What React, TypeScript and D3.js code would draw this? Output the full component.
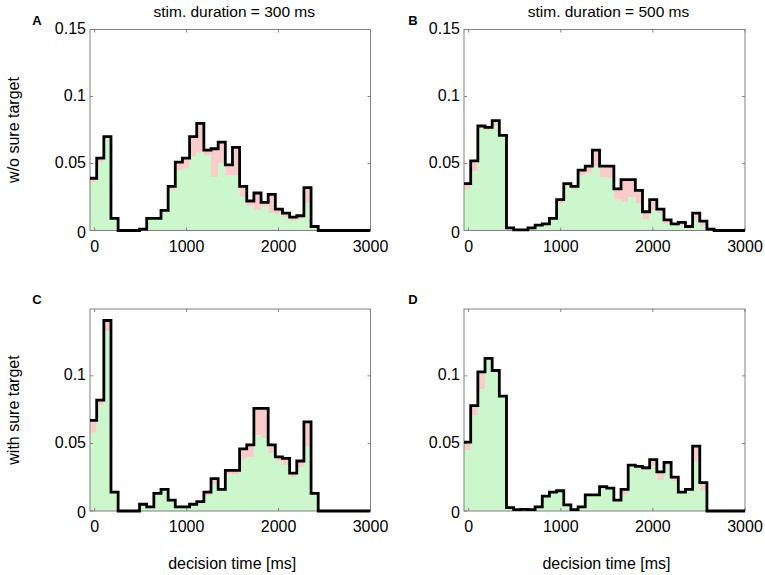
import React from "react";
import * as d3 from "d3";

// Histogram bins (decision time, ms)
const binStart = -55;
const binWidth = 77.7;
const xDomain: [number, number] = [-50, 3000];
const xTicks = [0, 1000, 2000, 3000];

const titles = ["stim. duration = 300 ms", "stim. duration = 500 ms"];
const rowLabels = ["w/o sure target", "with sure target"];
const panelLetters = ["A", "B", "C", "D"];
const xLabel = "decision time [ms]";

// Panel A: w/o sure target, 300 ms
const totalA = [0.039, 0.054, 0.070, 0.009, 0, 0, 0, 0.001, 0.009, 0.009, 0.015, 0.033, 0.051, 0.054, 0.070, 0.080,
  0.060, 0.061, 0.066, 0.049, 0.062, 0.033, 0.022, 0.028, 0.021, 0.027, 0.016, 0.013, 0.010, 0.011, 0.032, 0.003];
const greenA = [0.036, 0.051, 0.069, 0.009, 0, 0, 0, 0.001, 0.009, 0.009, 0.014, 0.030, 0.045, 0.046, 0.055, 0.058,
  0.056, 0.040, 0.050, 0.041, 0.041, 0.025, 0.018, 0.015, 0.018, 0.013, 0.012, 0.010, 0.007, 0.009, 0.020, 0.002];

// Panel B: w/o sure target, 500 ms
const totalB = [0.035, 0.052, 0.078, 0.077, 0.082, 0.071, 0.002, 0.0005, 0.0005, 0.002, 0.004, 0.005, 0.009, 0.023,
  0.035, 0.033, 0.045, 0.048, 0.060, 0.048, 0.048, 0.031, 0.038, 0.038, 0.030, 0.014, 0.023, 0.016, 0.008, 0.005,
  0.006, 0.003, 0.013, 0.007, 0.001];
const greenB = [0.031, 0.044, 0.076, 0.075, 0.078, 0.071, 0.002, 0.0005, 0.0005, 0.002, 0.004, 0.005, 0.009, 0.020,
  0.033, 0.031, 0.041, 0.043, 0.048, 0.040, 0.039, 0.023, 0.021, 0.025, 0.020, 0.008, 0.015, 0.013, 0.005, 0.004,
  0.004, 0.003, 0.008, 0.003, 0.001];

// Panel C: with sure target, 300 ms
const totalC = [0.067, 0.082, 0.141, 0.014, 0, 0, 0, 0.005, 0.003, 0.013, 0.016, 0.008, 0.003, 0.003, 0.005, 0.007,
  0.014, 0.024, 0.016, 0.030, 0.030, 0.046, 0.049, 0.076, 0.076, 0.049, 0.040, 0.039, 0.028, 0.037, 0.066, 0.013];
const greenC = [0.058, 0.078, 0.133, 0.014, 0, 0, 0, 0.005, 0.003, 0.013, 0.016, 0.008, 0.003, 0.003, 0.005, 0.007,
  0.011, 0.020, 0.016, 0.027, 0.027, 0.038, 0.040, 0.056, 0.054, 0.043, 0.037, 0.034, 0.025, 0.032, 0.048, 0.012];

// Panel D: with sure target, 500 ms
const totalD = [0.051, 0.078, 0.103, 0.113, 0.104, 0.085, 0.0025, 0.001, 0.0012, 0.001, 0.003, 0.011, 0.014, 0.015,
  0.0045, 0.001, 0.003, 0.012, 0.012, 0.018, 0.017, 0.008, 0.016, 0.034, 0.033, 0.032, 0.038, 0.029, 0.036, 0.025,
  0.014, 0.016, 0.048, 0.021];
const greenD = [0.045, 0.071, 0.090, 0.112, 0.104, 0.085, 0.0025, 0.001, 0.0012, 0.001, 0.003, 0.011, 0.014, 0.015,
  0.0045, 0.001, 0.003, 0.011, 0.012, 0.016, 0.017, 0.008, 0.012, 0.033, 0.032, 0.030, 0.033, 0.023, 0.034, 0.022,
  0.013, 0.016, 0.037, 0.015];

const yTicksTop = [0, 0.05, 0.1, 0.15];
const yTicksBottom = [0, 0.05, 0.1];
const yMaxTop = 0.15;
const yMaxBottom = 0.1495;

const GREEN = "#ccf7cc";
const PINK = "#f9cccc";
const FRAME = "#808080";
const FONT = "'Liberation Sans', Arial, sans-serif";
const TICK_FS = 16;
const LABEL_FS = 16;

type PanelProps = {
  x0: number; x1: number; y0: number; y1: number;
  total: number[]; green: number[]; yMax: number; yTicks: number[]; id: string;
};

function fmt(v: number) {
  if (v === 0) return "0";
  return String(+v.toFixed(2));
}

function Panel({ x0, x1, y0, y1, total, green, yMax, yTicks, id }: PanelProps) {
  const x = d3.scaleLinear().domain(xDomain).range([x0, x1]);
  const y = d3.scaleLinear().domain([0, yMax]).range([y1, y0]);
  const edge = (k: number) => Math.max(binStart + k * binWidth, xDomain[0]);
  const pts = total.map((v, k) => ({ x: edge(k), t: v, g: green[k] }));
  pts.push({ x: binStart + total.length * binWidth, t: 0, g: 0 });
  pts.push({ x: xDomain[1], t: 0, g: 0 });

  const greenArea = d3.area<any>().curve(d3.curveStepAfter)
    .x((d) => x(d.x)).y0(y(0)).y1((d) => y(d.g))(pts) as string;
  const pinkArea = d3.area<any>().curve(d3.curveStepAfter)
    .x((d) => x(d.x)).y0((d) => y(d.g)).y1((d) => y(d.t))(pts) as string;
  const line = d3.line<any>().curve(d3.curveStepAfter)
    .x((d) => x(d.x)).y((d) => y(d.t))(pts) as string;
  const tl = 3;
  return (
    <g>
      <defs>
        <clipPath id={id}>
          <rect x={x0} y={y0 - 2} width={x1 - x0} height={y1 - y0 + 4} />
        </clipPath>
      </defs>
      <g clipPath={`url(#${id})`}>
        <path d={greenArea} fill={GREEN} />
        <path d={pinkArea} fill={PINK} />
      </g>
      <rect x={x0} y={y0} width={x1 - x0} height={y1 - y0} fill="none" stroke={FRAME} strokeWidth={1} />
      {xTicks.map((t) => (
        <g key={"xt" + t}>
          <line x1={x(t)} x2={x(t)} y1={y1} y2={y1 - tl} stroke={FRAME} />
          <line x1={x(t)} x2={x(t)} y1={y0} y2={y0 + tl} stroke={FRAME} />
          <text x={x(t)} y={y1 + 17} fontSize={TICK_FS} textAnchor="middle" fontFamily={FONT}
            dominantBaseline="middle">{t}</text>
        </g>
      ))}
      {yTicks.map((t) => (
        <g key={"yt" + t}>
          <line x1={x0} x2={x0 + tl} y1={y(t)} y2={y(t)} stroke={FRAME} />
          <line x1={x1} x2={x1 - tl} y1={y(t)} y2={y(t)} stroke={FRAME} />
          <text x={x0 - 4} y={y(t) + (t === 0 ? 3 : 0)} fontSize={TICK_FS} textAnchor="end" fontFamily={FONT}
            dominantBaseline="middle">{fmt(t)}</text>
        </g>
      ))}
      <path d={line} fill="none" stroke="#000" strokeWidth={2.8} strokeLinejoin="miter" clipPath={`url(#${id})`} />
    </g>
  );
}

export default function App() {
  const cols = [{ x0: 90, x1: 370.5 }, { x0: 464, x1: 745 }];
  const rows = [{ y0: 29.5, y1: 230.5 }, { y0: 309, y1: 511 }];
  const data = [[totalA, greenA], [totalB, greenB], [totalC, greenC], [totalD, greenD]];
  return (
    <svg width={765} height={575} style={{ position: "absolute", left: 0, top: 0, background: "#fff" }}>
      <rect width={765} height={575} fill="#fff" />
      {rows.map((r, ri) =>
        cols.map((c, ci) => {
          const i = ri * 2 + ci;
          return (
            <Panel key={i} id={"clip" + i} x0={c.x0} x1={c.x1} y0={r.y0} y1={r.y1}
              total={data[i][0]} green={data[i][1]}
              yMax={ri === 0 ? yMaxTop : yMaxBottom} yTicks={ri === 0 ? yTicksTop : yTicksBottom} />
          );
        })
      )}
      {titles.map((t, ci) => (
        <text key={t} x={(cols[ci].x0 + cols[ci].x1) / 2 + 4} y={13} fontSize={15.5} textAnchor="middle"
          fontFamily={FONT} dominantBaseline="middle">{t}</text>
      ))}
      {panelLetters.map((l, i) => (
        <text key={l} x={i % 2 === 0 ? 37 : 413} y={i < 2 ? 22 : 301} fontSize={13} fontWeight="bold"
          textAnchor="middle" fontFamily={FONT} dominantBaseline="middle">{l}</text>
      ))}
      {rowLabels.map((t, ri) => (
        <text key={t} transform={`translate(15,${(rows[ri].y0 + rows[ri].y1) / 2}) rotate(-90)`} fontSize={LABEL_FS}
          textAnchor="middle" fontFamily={FONT} dominantBaseline="middle">{t}</text>
      ))}
      {cols.map((c, ci) => (
        <text key={"xl" + ci} x={(c.x0 + c.x1) / 2 + 2} y={565} fontSize={LABEL_FS} textAnchor="middle"
          fontFamily={FONT} dominantBaseline="middle">{xLabel}</text>
      ))}
    </svg>
  );
}
